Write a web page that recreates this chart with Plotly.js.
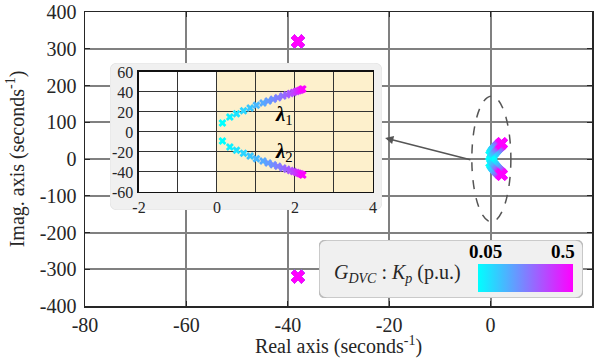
<!DOCTYPE html>
<html>
<head>
<meta charset="utf-8">
<script src="https://cdn.plot.ly/plotly-3.0.1.min.js"></script>
<style>
  html, body { margin: 0; padding: 0; background: #fff; }
  #chart { width: 599px; height: 358px; }
</style>
</head>
<body>
<div id="chart"></div>
<script>
// DVC controller gain sweep, Kp in p.u.
const kp = [0.05, 0.075, 0.1, 0.125, 0.15, 0.175, 0.2, 0.225, 0.25, 0.275,
            0.3, 0.325, 0.35, 0.375, 0.4, 0.425, 0.45, 0.475, 0.5];

// dominant pair lambda1 / lambda2 (seconds^-1)
const lam1Re = [0.14, 0.33, 0.50, 0.68, 0.85, 1.01, 1.18, 1.31, 1.44, 1.56,
                1.69, 1.79, 1.88, 1.96, 2.03, 2.08, 2.13, 2.17, 2.20];
const lam1Im = [9, 15, 18.3, 21.3, 24, 26.7, 29, 31, 32.7, 34.3,
                36, 37.3, 38.5, 39.5, 40.4, 41.1, 41.8, 42.4, 43];
const lam2Re = [0.14, 0.33, 0.50, 0.68, 0.85, 1.01, 1.18, 1.31, 1.44, 1.56,
                1.69, 1.79, 1.88, 1.96, 2.03, 2.08, 2.13, 2.17, 2.20];
const lam2Im = [-9, -15, -18.3, -21.3, -24, -26.7, -29, -31, -32.7, -34.3,
                -36, -37.3, -38.5, -39.5, -40.4, -41.1, -41.8, -42.4, -43];

// high-frequency pair (insensitive to Kp)
const lam3Re = [-38, -38, -38, -38, -38, -38, -38, -38, -38, -38,
                -38, -38, -38, -38, -38, -38, -38, -38, -38];
const lam3Im = [320, 320, 320, 320, 320, 320, 320, 320, 320, 320,
                320, 320, 320, 320, 320, 320, 320, 320, 320];
const lam4Re = [-38, -38, -38, -38, -38, -38, -38, -38, -38, -38,
                -38, -38, -38, -38, -38, -38, -38, -38, -38];
const lam4Im = [-320, -320, -320, -320, -320, -320, -320, -320, -320, -320,
                -320, -320, -320, -320, -320, -320, -320, -320, -320];

// axis ticks
const mainXTicks = [-80, -60, -40, -20, 0, 20];
const mainXText = ['-80', '-60', '-40', '-20', '0', '20'];
const mainYTicks = [-400, -300, -200, -100, 0, 100, 200, 300, 400];
const mainYText = ['-400', '-300', '-200', '-100', '0', '100', '200', '300', '400'];
const zoomXTicks = [-2, -1, 0, 1, 2, 3, 4];
const zoomXText = ['-2', ' ', '0', ' ', '2', ' ', '4'];
const zoomYTicks = [-60, -40, -20, 0, 20, 40, 60];
const zoomYText = ['-60', '-40', '-20', '0', '20', '40', '60'];
const kpRange = [0.05, 0.5];

const SERIF = 'Liberation Serif';
const INK = '#262626';
const cool = [[0, '#00ffff'], [1, '#ff00ff']];

function poleTrace(re, im, xa, ya, size, withBar) {
  const t = {
    type: 'scatter', mode: 'markers', x: re, y: im, xaxis: xa, yaxis: ya,
    hoverinfo: 'skip',
    marker: {
      symbol: 'x', size: size, color: kp, colorscale: cool,
      cmin: kpRange[0], cmax: kpRange[1], showscale: !!withBar,
      line: { width: 0 }
    }
  };
  if (withBar) {
    t.marker.colorbar = {
      orientation: 'h', x: 0.8688, xanchor: 'center', y: 0.0952, yanchor: 'middle',
      len: 95, lenmode: 'pixels', thickness: 28, thicknessmode: 'pixels',
      xpad: 0, ypad: 0, outlinewidth: 0, showticklabels: false, ticks: '',
      title: { text: '' }
    };
  }
  return t;
}

const traces = [
  poleTrace(lam1Re, lam1Im, 'x', 'y', 11, true),
  poleTrace(lam2Re, lam2Im, 'x', 'y', 11),
  poleTrace(lam3Re, lam3Im, 'x', 'y', 12),
  poleTrace(lam4Re, lam4Im, 'x', 'y', 12),
  // empty traces so the panel subplots exist
  { type: 'scatter', x: [], y: [], xaxis: 'x2', yaxis: 'y2', hoverinfo: 'skip' },
  poleTrace(lam1Re, lam1Im, 'x3', 'y3', 7),
  poleTrace(lam2Re, lam2Im, 'x3', 'y3', 7),
  { type: 'scatter', x: [], y: [], xaxis: 'x4', yaxis: 'y4', hoverinfo: 'skip' }
];

const hidden = {
  range: [0, 1], autorange: false, showgrid: false, zeroline: false,
  showticklabels: false, ticks: '', showline: false, fixedrange: true
};

// rounded rectangle in [0,1] subplot units
function roundRect(rx, ry) {
  return `M ${rx},0 L ${1 - rx},0 Q 1,0 1,${ry} L 1,${1 - ry} Q 1,1 ${1 - rx},1 ` +
         `L ${rx},1 Q 0,1 0,${1 - ry} L 0,${ry} Q 0,0 ${rx},0 Z`;
}

const tickFont = { family: SERIF, size: 20, color: INK };
const zoomFont = { family: SERIF, size: 16, color: INK };

const layout = {
  width: 599, height: 358,
  margin: { l: 85, r: 7, t: 12, b: 52 },
  paper_bgcolor: '#ffffff', plot_bgcolor: '#ffffff',
  showlegend: false,
  font: { family: SERIF, color: INK, size: 20 },
  xaxis: {
    domain: [0, 1], range: [-80, 20], autorange: false,
    tickvals: mainXTicks, ticktext: mainXText, ticks: 'inside', ticklen: 5, tickcolor: INK,
    showgrid: true, gridcolor: '#808080', gridwidth: 2, zeroline: false,
    showline: true, mirror: 'ticks', linecolor: INK, linewidth: 1.5,
    tickfont: tickFont,
    title: { text: 'Real axis (seconds<sup>-1</sup>)', font: tickFont, standoff: 2 }
  },
  yaxis: {
    domain: [0, 1], range: [-400, 400], autorange: false,
    tickvals: mainYTicks, ticktext: mainYText, ticks: 'inside', ticklen: 5, tickcolor: INK,
    showgrid: true, gridcolor: '#808080', gridwidth: 2, zeroline: false,
    showline: true, mirror: 'ticks', linecolor: INK, linewidth: 1.5,
    ticklabelstandoff: 3,
    tickfont: tickFont,
    title: { text: 'Imag. axis (seconds<sup>-1</sup>)', font: tickFont, standoff: 10 }
  },
  xaxis2: Object.assign({ domain: [0.0493, 0.5858], anchor: 'y2' }, hidden),
  yaxis2: Object.assign({ domain: [0.3265, 0.8265], anchor: 'x2' }, hidden),
  xaxis3: {
    domain: [0.1065, 0.568], anchor: 'y3', range: [-2, 4], autorange: false,
    tickvals: zoomXTicks, ticktext: zoomXText, ticks: '',
    showgrid: true, gridcolor: '#333333', gridwidth: 1, zeroline: false,
    showline: true, mirror: true, linecolor: '#111', linewidth: 1.5,
    tickfont: zoomFont
  },
  yaxis3: {
    domain: [0.3878, 0.796], anchor: 'x3', range: [-60, 60], autorange: false,
    tickvals: zoomYTicks, ticktext: zoomYText, ticks: '',
    showgrid: true, gridcolor: '#333333', gridwidth: 1, zeroline: false,
    showline: true, mirror: true, linecolor: '#111', linewidth: 1.5,
    ticklabelstandoff: 1,
    tickfont: zoomFont
  },
  xaxis4: Object.assign({ domain: [0.4615, 0.9822], anchor: 'y4' }, hidden),
  yaxis4: Object.assign({ domain: [0.0272, 0.2245], anchor: 'x4' }, hidden),
  shapes: [
    // zoom panel backdrop
    { type: 'path', xref: 'x2', yref: 'y2', layer: 'below', path: roundRect(0.03, 0.055),
      fillcolor: '#f0f0f0', line: { color: '#e4e4e4', width: 1 } },
    // unstable half-plane highlight inside the zoom panel
    { type: 'rect', xref: 'x3', yref: 'y3', layer: 'below', x0: 0, x1: 4, y0: -60, y1: 60,
      fillcolor: '#fdf0cc', line: { width: 0 } },
    // gain legend backdrop
    { type: 'path', xref: 'x4', yref: 'y4', layer: 'below', path: roundRect(0.03, 0.138),
      fillcolor: '#f0f0f0', line: { color: '#bdbdbd', width: 1.5 } },
    // dashed outline around the dominant poles
    { type: 'circle', xref: 'x', yref: 'y', x0: -3.7, x1: 4.0, y0: -171, y1: 171,
      line: { color: '#555555', width: 1.5, dash: 'dash' } }
  ],
  annotations: [
    { xref: 'x', yref: 'y', x: -20.8, y: 57, axref: 'x', ayref: 'y', ax: -3.7, ay: -3,
      showarrow: true, arrowhead: 2, arrowsize: 1.1, arrowwidth: 1.5, arrowcolor: '#555555', text: '' },
    { xref: 'x3', yref: 'y3', x: 1.72, y: 17, showarrow: false,
      text: '<b><i>λ</i></b><sub>1</sub>', font: { family: SERIF, size: 21, color: '#000' } },
    { xref: 'x3', yref: 'y3', x: 1.72, y: -20, showarrow: false,
      text: '<b><i>λ</i></b><sub>2</sub>', font: { family: SERIF, size: 21, color: '#000' } },
    { xref: 'paper', yref: 'paper', x: 0.4872, y: 0.1122, xanchor: 'left', yanchor: 'middle', showarrow: false,
      text: '<i>G</i><sub><i>DVC</i></sub> : <i>K</i><sub><i>p</i></sub> (p.u.)',
      font: { family: SERIF, size: 20, color: INK } },
    { xref: 'paper', yref: 'paper', x: 0.789, y: 0.1837, xanchor: 'center', yanchor: 'middle', showarrow: false,
      text: '<b>' + kpRange[0] + '</b>', font: { family: SERIF, size: 19, color: '#000' } },
    { xref: 'paper', yref: 'paper', x: 0.9428, y: 0.1837, xanchor: 'center', yanchor: 'middle', showarrow: false,
      text: '<b>' + kpRange[1] + '</b>', font: { family: SERIF, size: 19, color: '#000' } }
  ]
};

Plotly.newPlot('chart', traces, layout, { staticPlot: true, displayModeBar: false });
</script>
</body>
</html>
